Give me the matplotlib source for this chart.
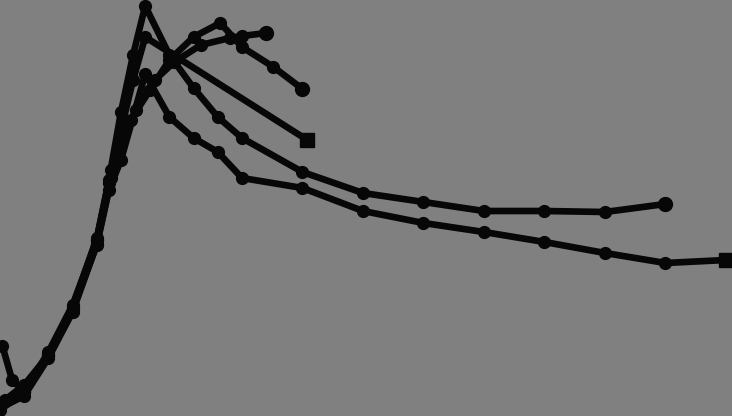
import matplotlib
matplotlib.use("Agg")
import matplotlib.pyplot as plt

# readings (x in units, y in units)
x1 = [0.2, 1, 2, 3, 4, 4.5, 5, 5.5, 6, 7, 8, 9, 10, 12.5, 15, 17.5, 20, 22.5, 25, 27.5]
y1 = [1.6, 3.1, 6.1, 10.8, 17.6, 23.6, 30.4, 36.1, 41.0, 36.1, 32.8, 29.9, 27.8, 24.4,
      22.3, 21.4, 20.5, 20.5, 20.4, 21.2]

x2 = [0, 1, 2, 3, 4, 4.5, 5, 5.5, 6, 12.7]
y2 = [1.1, 2.4, 6.4, 11.1, 17.6, 23.3, 28.6, 33.6, 37.9, 27.6]

x3 = [0.1, 0.5, 1, 2, 3, 4, 4.5, 5, 6, 7, 8, 9, 10, 12.5, 15, 17.5, 20, 22.5, 25, 27.5, 30]
y3 = [7.0, 3.6, 2.4, 6.1, 10.6, 17.1, 22.6, 25.6, 34.2, 29.9, 27.8, 26.4, 23.8, 22.8,
      20.5, 19.3, 18.4, 17.4, 16.3, 15.3, 15.6]

x4 = [0, 1, 2, 3, 4, 4.6, 5.4, 6.2, 7, 8, 9.1, 10, 11.3, 12.5]
y4 = [0.6, 2.4, 6.0, 10.9, 17.8, 24.6, 29.6, 32.6, 35.6, 37.9, 39.3, 36.9, 34.9, 32.7]

x5 = [0, 1, 2, 3, 4, 4.6, 5.6, 6.4, 7.2, 8.3, 9.5, 10, 11]
y5 = [0.8, 2.0, 5.8, 10.4, 17.2, 23.8, 30.6, 33.6, 35.4, 37.1, 37.8, 38.0, 38.3]

series = [(x1, y1, 'o'), (x2, y2, 's'), (x3, y3, 's'), (x4, y4, 'o'), (x5, y5, 'o')]

fig = plt.figure(figsize=(7.32, 4.16), dpi=100, facecolor='#808080')
ax = fig.add_axes([0, 0, 1, 1])
ax.set_facecolor('#808080')

ink = '#070707'
for xs, ys, end in series:
    ax.plot(xs, ys, '-o', color=ink, lw=4.8, ms=8.5, clip_on=False, solid_capstyle='round')
    ax.plot(xs[-1], ys[-1], end, color=ink, ms=10, clip_on=False)

ax.set_xlim(0, 30.25)
ax.set_ylim(0, 41.6)
ax.axis('off')

fig.savefig('out.png', dpi=100, facecolor='#808080')
